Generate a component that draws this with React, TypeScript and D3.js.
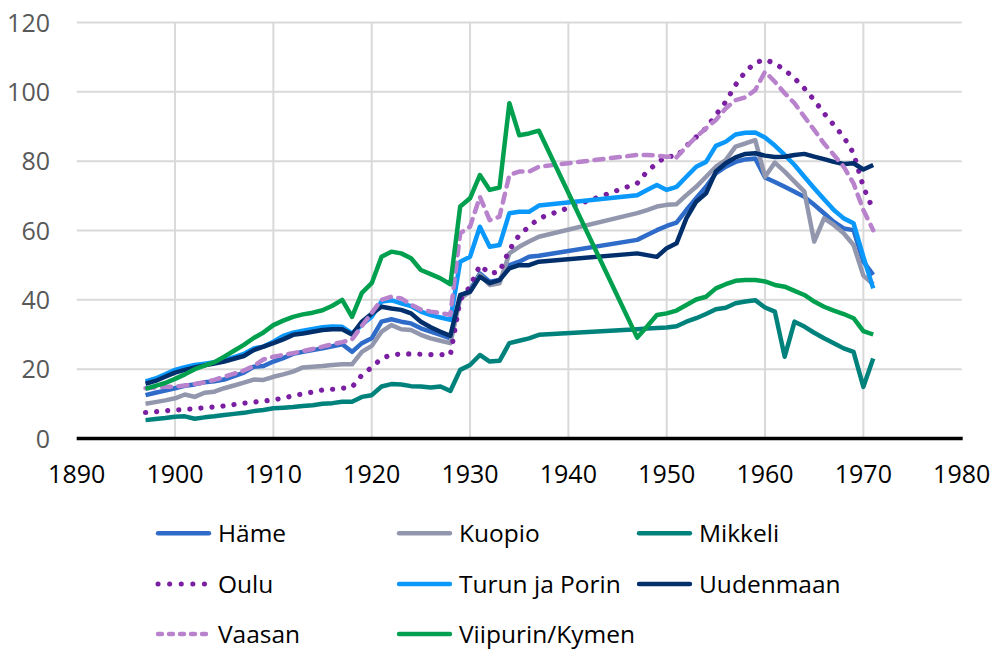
import React from 'react';
import * as d3 from 'd3';

const years = [
  1897, 1898, 1899, 1900, 1901, 1902, 1903, 1904, 1905, 1906, 1907, 1908, 1909, 1910,
  1911, 1912, 1913, 1914, 1915, 1916, 1917, 1918, 1919, 1920, 1921, 1922, 1923, 1924,
  1925, 1926, 1927, 1928, 1929, 1930, 1931, 1932, 1933, 1934, 1935, 1936, 1937,
  1947, 1948, 1949, 1950, 1951, 1952, 1953, 1954, 1955, 1956, 1957, 1958, 1959, 1960,
  1961, 1962, 1963, 1964, 1965, 1966, 1967, 1968, 1969, 1970, 1971,
];

const hame = [
  12.5, 13.2, 13.8, 14.5, 15.2, 15.6, 16.2, 16.5, 17, 18, 19, 20.7, 20.9, 22.2,
  23.2, 24.4, 25, 25.5, 26, 26.6, 27.2, 25, 27.5, 28.9, 33.7, 34.4, 33.7, 33.2,
  31.8, 30.8, 29.9, 28.9, 40.9, 42.8, 47.6, 45.2, 45.7, 50, 51, 52.4, 52.7,
  57.3, 58.7, 60.1, 61.3, 62.3, 65.9, 69.3, 72.6, 76.5, 78.4, 79.8, 80.5, 80.8, 75.3,
  74, 72.6, 71.2, 69.7, 67.4, 65, 62.5, 60.6, 60.1, 51, 47.2,
];

const kuopio = [
  10, 10.5, 11, 11.6, 12.7, 12, 13.2, 13.5, 14.5, 15.3, 16.1, 17, 16.9, 17.8,
  18.5, 19.3, 20.5, 20.7, 20.9, 21.2, 21.4, 21.4, 25, 26.7, 30.8, 32.7, 31.5, 31.3,
  29.9, 28.9, 28.2, 27.5, 40.4, 42.3, 47.2, 44.3, 44.8, 53.4, 55.3, 56.8, 58.2,
  65, 65.9, 66.9, 67.4, 67.6, 70.2, 72.6, 75.5, 78.4, 80.3, 84.2, 85.1, 86.1, 75.5,
  79.6, 77, 74.1, 71.2, 56.8, 63.5, 61.6, 59.2, 55.8, 47, 44.5,
];

const mikkeli = [
  5.3, 5.6, 5.9, 6.3, 6.4, 5.7, 6.1, 6.4, 6.8, 7.1, 7.4, 7.9, 8.2, 8.7,
  8.9, 9.1, 9.4, 9.6, 10, 10.2, 10.6, 10.6, 12, 12.5, 15, 15.7, 15.6, 15.1,
  15, 14.7, 15, 13.7, 19.8, 21.2, 24.1, 22.2, 22.4, 27.5, 28.2, 28.9, 29.9,
  31.5, 31.7, 31.9, 32, 32.4, 33.7, 34.7, 35.9, 37.3, 37.7, 39, 39.5, 39.9, 37.8,
  36.6, 23.6, 33.7, 32.3, 30.5, 28.9, 27.5, 26, 25, 14.9, 23.1,
];

const oulu = [
  7.5, 7.7, 8, 8.2, 8.4, 8.6, 8.9, 9.1, 9.4, 9.8, 10.2, 10.5, 10.8, 11.1,
  11.7, 12.3, 12.9, 13.4, 14, 14.2, 14.5, 14.8, 18.3, 20.5, 23.1, 24.1, 24.4, 24.4,
  24.3, 24.2, 24.2, 24.1, 40, 43.8, 50, 47.6, 48.1, 54.4, 58.7, 61.1, 63.5,
  73.6, 77, 79.4, 81.5, 81.3, 84.4, 87, 89.5, 93.3, 97.1, 102, 105.8, 108.4, 109.3,
  108.2, 106.3, 103.9, 101, 97.6, 93.8, 90.4, 87, 82.3, 72.6, 65.9,
];

const turku = [
  16.5, 17.3, 18.5, 19.8, 20.6, 21.2, 21.6, 22, 22.6, 23.5, 24.4, 26, 26.5, 27.9,
  29.6, 30.5, 31.1, 31.6, 32.1, 32.3, 32.2, 30.3, 32.8, 35.1, 39.5, 39.9, 39, 38.2,
  36.6, 35.6, 34.9, 34.2, 51, 52.4, 61.1, 55.3, 55.8, 65, 65.4, 65.4, 67.2,
  70.2, 71.7, 73.1, 71.7, 72.6, 75.5, 78.4, 79.8, 84.4, 85.6, 87.7, 88.2, 88.3, 86.8,
  84.5, 81.8, 78.9, 75.5, 72.2, 69, 65.9, 63.5, 62.1, 52.4, 43.3,
];

const uusimaa = [
  15.8, 16.6, 17.8, 19, 19.8, 20.5, 21.1, 21.6, 22.2, 23, 23.8, 25.5, 26.5, 27.5,
  28.6, 29.9, 30.3, 30.8, 31.3, 31.5, 31.5, 30, 33.7, 36, 38, 37.5, 37.1, 36.1,
  33.7, 32.1, 30.8, 29.6, 41.4, 42.3, 46.7, 44.8, 45.7, 49.1, 50, 50, 51,
  53.4, 52.9, 52.4, 54.9, 56.3, 63.5, 68.3, 70.7, 77, 79.4, 81.1, 82.1, 82.3, 81.6,
  81.2, 81.3, 81.8, 82.1, 81.3, 80.6, 79.8, 79.2, 79.4, 77.6, 78.9,
];

const vaasa = [
  14.5, 14.7, 14.9, 15, 15.3, 15.7, 16.2, 16.9, 17.8, 18.7, 19.6, 20.9, 22.8, 23.6,
  24.1, 24.6, 25.2, 25.8, 26.5, 27.2, 27.8, 28.6, 32.5, 36.2, 40, 40.9, 40.4, 38.6,
  37.2, 36.6, 36.2, 35.7, 59.2, 61.1, 69.7, 63, 64, 76, 77, 77, 78.4,
  81.8, 81.8, 81.6, 81.3, 81.1, 84.2, 87, 89.5, 91.9, 95.2, 97.6, 98.4, 100.5, 105.8,
  102.9, 99.6, 96.7, 92.8, 89, 85.1, 81.8, 78.4, 73.6, 65.9, 60.1,
];

const viipuri = [
  14.3, 15.2, 16, 17.2, 18.5, 20, 21, 22, 23.6, 25.3, 27, 29, 30.6, 32.7,
  34, 35.1, 35.8, 36.3, 37, 38.3, 40, 35.1, 42, 44.8, 52.4, 53.9, 53.4, 52,
  48.6, 47.4, 46.2, 44.5, 66.9, 69.3, 76, 71.7, 72.4, 96.7, 87.5, 88, 88.8,
  29.1, 32.3, 35.6, 36.1, 36.9, 38.5, 40.1, 40.9, 43.3, 44.5, 45.5, 45.7, 45.7, 45.3,
  44.3, 43.8, 42.6, 41.4, 39.5, 38, 36.9, 35.9, 34.7, 31, 30,
];

const yTicks = [0, 20, 40, 60, 80, 100, 120];
const xTicks = [1890, 1900, 1910, 1920, 1930, 1940, 1950, 1960, 1970, 1980];

type Style = 'solid' | 'dot' | 'dash';

const series: { name: string; values: number[]; color: string; style: Style }[] = [
  { name: 'Häme', values: hame, color: '#2f6bc8', style: 'solid' },
  { name: 'Kuopio', values: kuopio, color: '#9397ae', style: 'solid' },
  { name: 'Mikkeli', values: mikkeli, color: '#00827c', style: 'solid' },
  { name: 'Oulu', values: oulu, color: '#7b1fa2', style: 'dot' },
  { name: 'Turun ja Porin', values: turku, color: '#0a98fb', style: 'solid' },
  { name: 'Uudenmaan', values: uusimaa, color: '#002f6c', style: 'solid' },
  { name: 'Vaasan', values: vaasa, color: '#b882cc', style: 'dash' },
  { name: 'Viipurin/Kymen', values: viipuri, color: '#00a04f', style: 'solid' },
];

const font = '"Open Sans", "Noto Sans", sans-serif';

const dashFor = (s: Style, legend: boolean) => {
  if (s === 'dot') return legend ? '0.1 11.5' : '0.1 11';
  if (s === 'dash') return legend ? '4 7' : '9 7.5';
  return undefined;
};

export default function App() {
  const width = 994;
  const height = 649;
  const left = 76.7;
  const right = 961.7;
  const top = 22.5;
  const bottom = 438.5;

  const x = d3.scaleLinear().domain([1890, 1980]).range([left, right]);
  const y = d3.scaleLinear().domain([0, 120]).range([bottom, top]);

  const line = d3
    .line<number>()
    .x((_, i) => x(years[i]))
    .y((d) => y(d));

  const legendCols = [156, 397, 637];
  const legendRows = [533.3, 584, 634];

  return (
    <div style={{ position: 'absolute', left: 0, top: 0 }}>
      <svg width={width} height={height} style={{ display: 'block', background: '#fff' }}>
        {/* grid */}
        {yTicks.map((t) => (
          <line key={'gy' + t} x1={left} x2={right} y1={y(t)} y2={y(t)} stroke="#d9d9d9" strokeWidth={2} />
        ))}
        {xTicks.slice(1, -1).map((t) => (
          <line key={'gx' + t} x1={x(t)} x2={x(t)} y1={top} y2={bottom} stroke="#d9d9d9" strokeWidth={2} />
        ))}

        {/* series */}
        {series.map((s) => (
          <path
            key={s.name}
            d={line(s.values) || ''}
            fill="none"
            stroke={s.color}
            strokeWidth={s.style === 'dot' ? 5.2 : 4.5}
            strokeLinejoin="round"
            strokeLinecap={s.style === 'solid' ? 'butt' : 'round'}
            strokeDasharray={dashFor(s.style, false)}
          />
        ))}

        {/* x axis line */}
        <line x1={left} x2={right + 1} y1={bottom} y2={bottom} stroke="#000" strokeWidth={3.5} />

        {/* y labels */}
        {yTicks.map((t) => (
          <text
            key={'ly' + t}
            x={50}
            y={y(t) + 9}
            textAnchor="end"
            fontFamily={font}
            fontSize={25}
            fill="#595959"
          >
            {t}
          </text>
        ))}

        {/* x labels */}
        {xTicks.map((t) => (
          <text key={'lx' + t} x={x(t)} y={483} textAnchor="middle" fontFamily={font} fontSize={25} fill="#000">
            {t}
          </text>
        ))}

        {/* legend */}
        {series.map((s, i) => {
          const lx = legendCols[i % 3];
          const ly = legendRows[Math.floor(i / 3)];
          return (
            <g key={'lg' + s.name}>
              <line
                x1={lx + 2}
                x2={lx + 53}
                y1={ly}
                y2={ly}
                stroke={s.color}
                strokeWidth={s.style === 'dot' ? 5 : 4.4}
                strokeLinecap="round"
                strokeDasharray={dashFor(s.style, true)}
              />
              <text x={lx + 62} y={ly + 9} fontFamily={font} fontSize={24.5} fill="#000">
                {s.name}
              </text>
            </g>
          );
        })}
      </svg>
    </div>
  );
}
